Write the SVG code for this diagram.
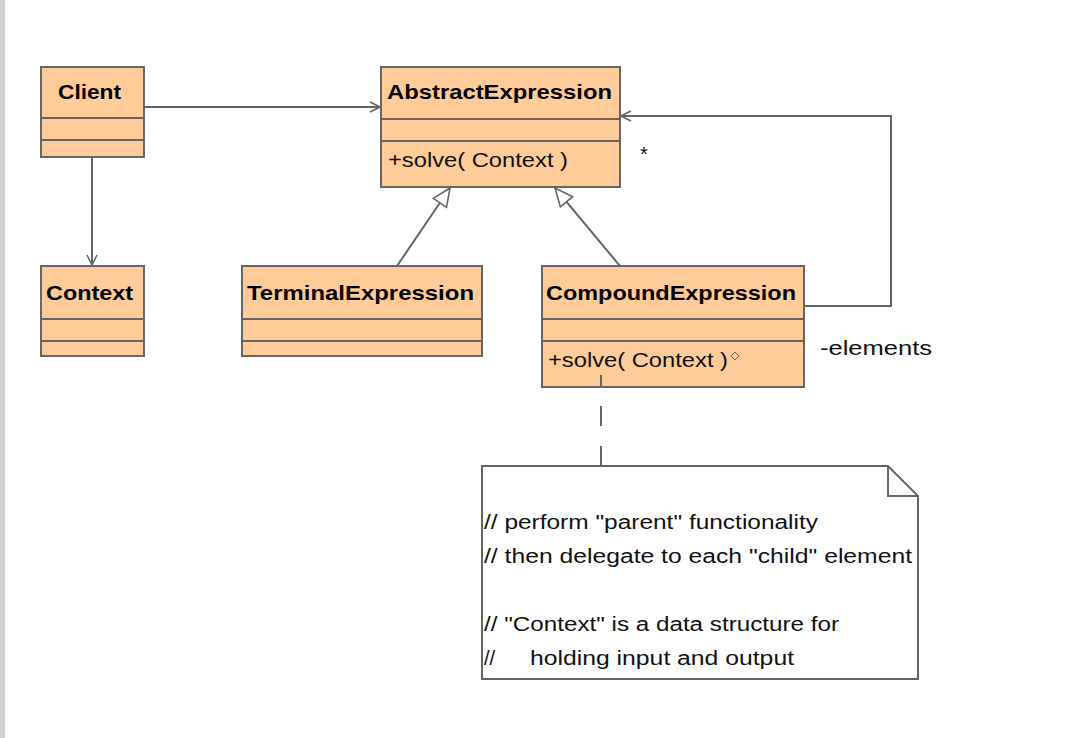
<svg xmlns="http://www.w3.org/2000/svg" width="1076" height="738" viewBox="0 0 1076 738">
<style>
.box{fill:#FFCC99;stroke:#666;stroke-width:2}
.div{stroke:#666;stroke-width:2}
.ttl{font-family:"Liberation Sans",Arial,sans-serif;font-weight:bold;font-size:21px;fill:#000}
.txt{font-family:"Liberation Sans",Arial,sans-serif;font-size:20px;fill:#111}
.ln{fill:none;stroke:#666;stroke-width:2}
.note{fill:#fff;stroke:#666;stroke-width:2}
</style>
<defs>
<marker id="open" viewBox="0 0 12 12" refX="11" refY="6" markerWidth="12" markerHeight="12" markerUnits="userSpaceOnUse" orient="auto">
<path d="M1 1 L11 6 L1 11" fill="none" stroke="#666" stroke-width="1.6"/>
</marker>
<marker id="gen" viewBox="0 0 20 18" refX="19" refY="9" markerWidth="20" markerHeight="18" markerUnits="userSpaceOnUse" orient="auto">
<path d="M1 1 L19 9 L1 17 Z" fill="#fff" stroke="#666" stroke-width="1.6"/>
</marker>
</defs>
<rect width="1076" height="738" fill="#fff"/>
<rect x="0" y="0" width="5" height="738" fill="#d0d0d0"/>

<g id="Client">
<rect class="box" x="41" y="67" width="103" height="90"/>
<line class="div" x1="41" y1="118" x2="144" y2="118"/>
<line class="div" x1="41" y1="140" x2="144" y2="140"/>
<text class="ttl" x="58" y="99" textLength="63" lengthAdjust="spacingAndGlyphs">Client</text>
</g>

<g id="AbstractExpression">
<rect class="box" x="381" y="67" width="239" height="120"/>
<line class="div" x1="381" y1="119" x2="620" y2="119"/>
<line class="div" x1="381" y1="141" x2="620" y2="141"/>
<text class="ttl" x="387" y="99" textLength="225" lengthAdjust="spacingAndGlyphs">AbstractExpression</text>
<text class="txt" x="388" y="167" textLength="180" lengthAdjust="spacingAndGlyphs">+solve( Context )</text>
</g>

<g id="Context">
<rect class="box" x="41" y="266" width="103" height="90"/>
<line class="div" x1="41" y1="319" x2="144" y2="319"/>
<line class="div" x1="41" y1="341" x2="144" y2="341"/>
<text class="ttl" x="46" y="300" textLength="87" lengthAdjust="spacingAndGlyphs">Context</text>
</g>

<g id="TerminalExpression">
<rect class="box" x="242" y="266" width="240" height="90"/>
<line class="div" x1="242" y1="319" x2="482" y2="319"/>
<line class="div" x1="242" y1="341" x2="482" y2="341"/>
<text class="ttl" x="247" y="300" textLength="227" lengthAdjust="spacingAndGlyphs">TerminalExpression</text>
</g>

<g id="CompoundExpression">
<rect class="box" x="542" y="266" width="262" height="121"/>
<line class="div" x1="542" y1="319" x2="804" y2="319"/>
<line class="div" x1="542" y1="341" x2="804" y2="341"/>
<text class="ttl" x="546" y="300" textLength="250" lengthAdjust="spacingAndGlyphs">CompoundExpression</text>
<text class="txt" x="548" y="367" textLength="180" lengthAdjust="spacingAndGlyphs">+solve( Context )</text>
<polygon points="735,352 739,356 735,360 731,356" fill="none" stroke="#666" stroke-width="1"/>
</g>

<g id="Note">
<path class="note" d="M482 466 H888 L918 496 V679 H482 Z"/>
<path class="ln" d="M888 466 V496 H918"/>
<text class="txt" x="484" y="529" textLength="334" lengthAdjust="spacingAndGlyphs">// perform "parent" functionality</text>
<text class="txt" x="484" y="563" textLength="428" lengthAdjust="spacingAndGlyphs">// then delegate to each "child" element</text>
<text class="txt" x="484" y="631" textLength="355" lengthAdjust="spacingAndGlyphs">// "Context" is a data structure for</text>
<text class="txt" x="484" y="665">//<tspan x="530" textLength="264" lengthAdjust="spacingAndGlyphs">holding input and output</tspan></text>
</g>

<g id="connectors">
<path class="ln" d="M144 107 H380" marker-end="url(#open)"/>
<path class="ln" d="M92 157 V265" marker-end="url(#open)"/>
<path class="ln" d="M397 266 L450 188" marker-end="url(#gen)"/>
<path class="ln" d="M620 266 L555 188" marker-end="url(#gen)"/>
<path class="ln" d="M804 306 H891 V116 H621" marker-end="url(#open)"/>
<path class="ln" d="M601 375 V387 M601 406 V426 M601 446 V466"/>
<text class="txt" x="640" y="161">*</text>
<text class="txt" x="820" y="355" textLength="112" lengthAdjust="spacingAndGlyphs">-elements</text>
</g>
</svg>
